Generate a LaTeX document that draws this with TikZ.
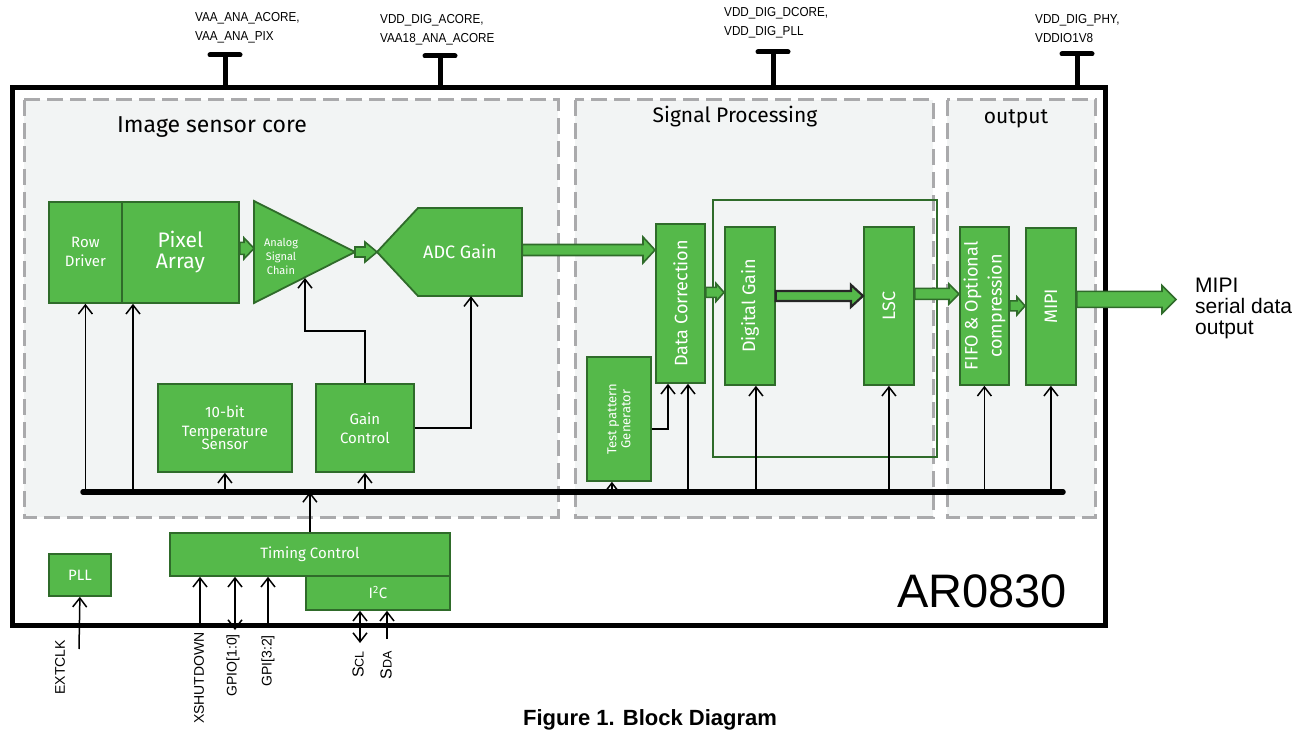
\documentclass[tikz,border=0pt]{standalone}
\usepackage{fontspec}
\setmainfont{Liberation Sans}
\newfontfamily\blockfont{Fira Sans}
\newfontfamily\pinfont[FakeStretch=0.9]{Liberation Sans}
\usetikzlibrary{arrows.meta,calc}

\definecolor{blockgreen}{HTML}{55B94A}
\definecolor{blockedge}{HTML}{2F6B2A}
\definecolor{secfill}{HTML}{F2F4F4}
\definecolor{secline}{HTML}{AAAAAC}

\newcommand{\bsize}[2]{\blockfont\fontsize{#1}{#2}\selectfont}
% fat green arrow: start, end, shaft half, head half, head length
\newcommand{\fatarrow}[6][fatarr]{%
  \draw[#1] let \p1=(#2), \p2=(#3) in
    (\x1,\y1+#4) -- (\x2-#6,\y1+#4) -- (\x2-#6,\y1+#5) -- (\x2,\y1)
    -- (\x2-#6,\y1-#5) -- (\x2-#6,\y1-#4) -- (\x1,\y1-#4) -- cycle;}

\tikzset{
  block/.style={draw=blockedge, fill=blockgreen, line width=1.8pt, text=white,
    font=\bsize{15}{19}, align=center, inner sep=0pt, anchor=north west},
  blockshape/.style={draw=blockedge, fill=blockgreen, line width=1.8pt, line join=miter},
  blocktext/.style={text=white, align=center, inner sep=0pt},
  section/.style={draw=secline, fill=secfill, line width=3pt, dash pattern=on 16pt off 7pt},
  title/.style={font=\bsize{21}{24}},
  fatarr/.style={draw=blockedge, fill=blockgreen, line width=1.6pt},
  fatdark/.style={draw=black!85, fill=blockgreen, line width=2.2pt},
  sig/.style={black, line width=1.5pt, -{Straight Barb[length=9pt,width=14pt]}},
  sigboth/.style={black, line width=1.5pt,
    {Straight Barb[length=9pt,width=14pt]}-{Straight Barb[length=9pt,width=14pt]}},
  pin/.style={line width=5pt},
  pinlab/.style={font=\pinfont\fontsize{13}{19.5}\selectfont, align=left,
    anchor=north west, inner sep=0pt},
  extlab/.style={rotate=90, anchor=east, inner sep=0pt, font=\fontsize{14}{16}\selectfont},
}

\begin{document}
\begin{tikzpicture}[x=1pt, y=-1pt]
\useasboundingbox (0,0) rectangle (1307,730);

% sections
\draw[section] (24,100) rectangle (558,517);
\draw[section] (575,100) rectangle (933,517);
\draw[section] (947,100) rectangle (1095,517);
\node[title, font=\bsize{23}{25}] (coretitle) at (212,127) {Image sensor core};
\node[title] (proctitle) at (735,117) {Signal Processing};
\node[title] (outtitle) at (1016,119) {output};

% chip outline
\draw[line width=5pt] (12,88) rectangle (1105,625);

% power pins
\foreach \x/\b/\lx/\ly/\nm/\txt in {225/55/195/12/pa/{VAA\_ANA\_ACORE,\\VAA\_ANA\_PIX},
    440/56/380/14/pb/{VDD\_DIG\_ACORE,\\VAA18\_ANA\_ACORE},
    773/52/724/7/pc/{VDD\_DIG\_DCORE,\\VDD\_DIG\_PLL},
    1077/54/1035/14/pd/{VDD\_DIG\_PHY,\\VDDIO1V8}}{
  \coordinate (\nm top) at (\x,\b);
  \draw[pin] (\x,88) -- (\nm top);
  \draw[pin, line cap=round] ($(\nm top)+(-15,0)$) -- ($(\nm top)+(15,0)$);
  \node[pinlab] (\nm lab) at (\lx,\ly) {\txt};
}

% image sensor core
\node[block] (rowdrv) at (48,201) [minimum width=73, minimum height=101] {Row\\Driver};
\node[block, font=\bsize{21}{21}] (pix) at (121,201) [minimum width=117, minimum height=101] {Pixel\\Array};
\coordinate (ascapex) at (355,252);
\coordinate (ascleft) at (254,250);
\draw[blockshape] (254,201) -- (ascapex) -- (254,303) -- cycle;
\node[blocktext, font=\bsize{11}{14}] (asc) at (281,256) {Analog\\Signal\\Chain};
\coordinate (adctip) at (377,252);
\draw[blockshape] (adctip) -- (418,208) -- (522,208) -- (522,296) -- (418,296) -- cycle;
\node[blocktext, font=\bsize{18}{20}, minimum width=124, minimum height=88] (adc) at (460,252) {ADC Gain};
\node[block, font=\bsize{15}{17}] (temp) at (157,383) [minimum width=134, minimum height=88] {10-bit\\[2pt]Temperature\\[-4pt]Sensor};
\node[block] (gain) at (315,383) [minimum width=98, minimum height=88] {Gain\\Control};

% signal processing
\draw[blockedge, line width=1.3pt] (713,200) rectangle (937,457);
\node[block] (tpg) at (586,356) [minimum width=64, minimum height=124] {};
\node[blocktext, rotate=90, font=\bsize{13}{14}] (tpgtext) at (tpg.center) {Test pattern\\Generator};
\node[block] (dc) at (655,223) [minimum width=49, minimum height=159] {};
\node[blocktext, rotate=90, font=\bsize{18}{20}] (dctext) at (dc.center) {Data Correction};
\node[block] (dg) at (724,226) [minimum width=50, minimum height=158] {};
\node[blocktext, rotate=90, font=\bsize{18}{20}] (dgtext) at (dg.center) {Digital Gain};
\node[block] (lsc) at (863,226) [minimum width=50, minimum height=158] {};
\node[blocktext, rotate=90, font=\bsize{18}{20}] (lsctext) at (lsc.center) {LSC};

% output
\node[block] (fifo) at (959,226) [minimum width=49, minimum height=158] {};
\node[blocktext, rotate=90, font=\bsize{18}{24}] (fifotext) at (fifo.center) {FIFO \& Optional\\compression};
\node[block] (mipi) at (1025,227) [minimum width=50, minimum height=157] {};
\node[blocktext, rotate=90, font=\bsize{18}{20}] (mipitext) at (mipi.center) {MIPI};
\coordinate (mipiout) at (1176,298);
\node[anchor=west, align=left, inner sep=0pt, font=\fontsize{21}{21}\selectfont] (outlab) at (1195,308) {MIPI\\serial data\\output};

% bottom blocks
\node[block] (pll) at (48,553) [minimum width=62, minimum height=42] {PLL};
\node[block] (timing) at (169,532) [minimum width=280, minimum height=43] {Timing Control};
\node[block, font=\bsize{15}{16}] (i2c) at (305,575) [minimum width=144, minimum height=34] {I\textsuperscript{2}C};

% data path
\fatarrow{$(pix.east)+(0,-4)$}{ascleft}{6pt}{10.5pt}{10pt}
\fatarrow{ascapex}{adctip}{5pt}{10pt}{12pt}
\fatarrow{$(adc.east)+(0,-2)$}{dc.west}{5.5pt}{13pt}{12pt}
\fatarrow{$(dc.east)+(0,-11)$}{dg.west}{5pt}{9pt}{8pt}
\fatarrow[fatdark]{$(dg.east)+(0,-10)$}{lsc.west}{5pt}{11pt}{12pt}
\fatarrow{$(lsc.east)+(0,-12)$}{fifo.west}{5.5pt}{10pt}{10pt}
\fatarrow{fifo.east}{mipi.west}{5pt}{9pt}{8pt}
\fatarrow{$(mipi.east)+(0,-7)$}{mipiout}{8pt}{14pt}{14pt}

% control bus
\coordinate (bus) at (83,492);
\coordinate (busend) at (1063,492);
\draw[line width=5.5pt, line cap=round] (bus) -- (busend);
\coordinate (pixin) at ($(pix.south west)+(12,0)$);
\coordinate (tpgin) at ($(tpg.south)+(-7,0)$);
\coordinate (dcin) at ($(dc.south west)+(33,0)$);
\coordinate (dctp) at ($(dc.south west)+(13,0)$);
\coordinate (dgin) at ($(dg.south)+(6,0)$);
\foreach \blk in {rowdrv.south, pixin, temp.south, gain.south, tpgin, dcin, dgin, lsc.south, fifo.south, mipi.south}
  \draw[sig] (\blk |- bus) -- (\blk);
\draw[sig] (timing.north) -- (timing.north |- bus);
\draw[sig] ([yshift=-10pt]tpg.east) -| (dctp);

% gain control
\coordinate (ascin) at (305,278);
\coordinate (gcturn) at (305,331);
\coordinate (adcin) at ($(adc.south)+(11,0)$);
\draw[sig] (gain.north) |- (gcturn) -- (ascin);
\draw[sig] (gain.east) -| (adcin);

% external pins
\coordinate (extclk) at (79,649);
\coordinate (xsd) at (200,626);
\coordinate (gpio) at (235,630);
\coordinate (gpi) at (268,626);
\coordinate (scl) at (360,643);
\coordinate (sda) at (387,639);
\draw[sig] (extclk) -- (pll.south);
\draw[sig] (xsd) -- (xsd |- timing.south);
\draw[sigboth] (gpio) -- (gpio |- timing.south);
\draw[sig] (gpi) -- (gpi |- timing.south);
\draw[sigboth] (scl) -- (scl |- i2c.south);
\draw[sig] (sda) -- (sda |- i2c.south);
\node[extlab] (extclklab) at (60,640) {EXTCLK};
\node[extlab] (xsdlab) at (199,632) {XSHUTDOWN};
\node[extlab] (gpiolab) at (233,634) {GPIO[1:0]};
\node[extlab] (gpilab) at (268,635) {GPI[3:2]};
\node[extlab, font=\fontsize{16}{18}\selectfont] (scllab) at (358,651) {S{\fontsize{12.5}{14}\selectfont CL}};
\node[extlab, font=\fontsize{16}{18}\selectfont] (sdalab) at (386,651) {S{\fontsize{12.5}{14}\selectfont DA}};

% part name and caption
\node[anchor=base west, inner sep=0pt, font=\fontsize{47}{50}\selectfont] (chipname) at (897,607) {AR0830};
\node[anchor=base, inner sep=0pt, font=\bfseries\fontsize{22}{24}\selectfont] (caption) at (650,725) {Figure 1. Block Diagram};
\end{tikzpicture}
\end{document}
